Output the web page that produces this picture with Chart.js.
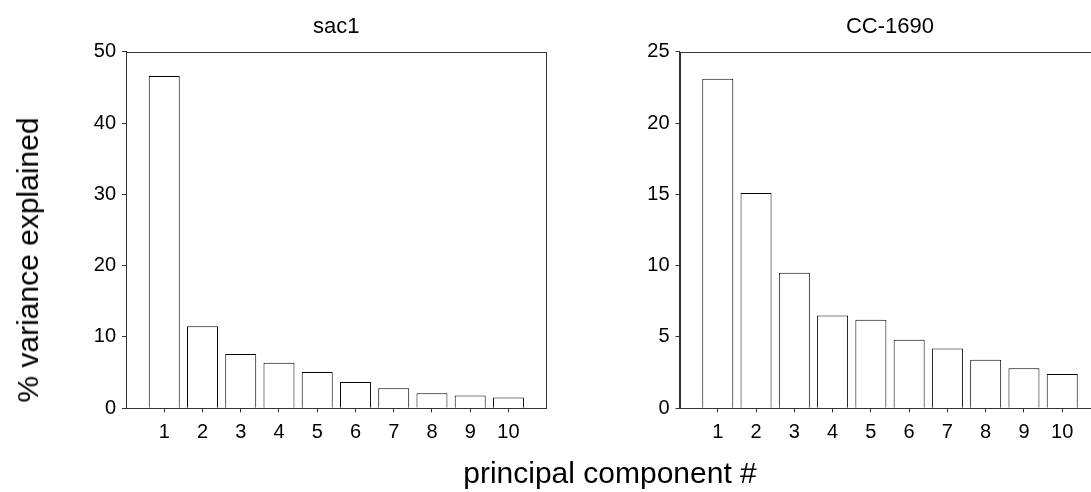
<!DOCTYPE html>
<html>
<head>
<meta charset="utf-8">
<script src="https://cdn.jsdelivr.net/npm/chart.js@4"></script>
<style>
  html, body {
    margin: 0;
    width: 1091px;
    height: 492px;
    overflow: hidden;
    background: #fff;
    font-family: "Liberation Sans", Arial, sans-serif;
  }
  .panel {
    position: absolute;
    top: 0;
    height: 492px;
  }
  #panel-sac1 { left: 0; width: 580px; }
  #panel-cc { left: 580px; width: 560px; }
  .axis-label {
    position: absolute;
    font-size: 30px;
    line-height: 30px;
    white-space: nowrap;
    color: #000;
  }
  #ylabel {
    left: 27.6px;
    top: 259.5px;
    transform: translate(-50%, -50%) rotate(-90deg);
  }
  #xlabel {
    left: 610px;
    top: 458px;
    transform: translateX(-50%);
  }
</style>
</head>
<body>
<div class="panel" id="panel-sac1"><canvas id="chart-sac1"></canvas></div>
<div class="panel" id="panel-cc"><canvas id="chart-cc"></canvas></div>
<div class="axis-label" id="ylabel">% variance explained</div>
<div class="axis-label" id="xlabel">principal component #</div>
<script>
const components = [1, 2, 3, 4, 5, 6, 7, 8, 9, 10];
const sac1Variance = [46.6, 11.5, 7.6, 6.4, 5.1, 3.7, 2.8, 2.1, 1.8, 1.5];
const cc1690Variance = [23.1, 15.1, 9.5, 6.5, 6.2, 4.8, 4.2, 3.4, 2.8, 2.4];

Chart.defaults.font.family = "'Liberation Sans', Arial, sans-serif";
Chart.defaults.color = "#000";

// box around the plot area (left/bottom come from the axes)
const frame = {
  id: "frame",
  afterDraw(chart) {
    const { ctx, chartArea } = chart;
    const l = Math.round(chartArea.left) + 0.5;
    const t = Math.round(chartArea.top) + 0.5;
    const r = Math.round(chartArea.right) - 0.5;
    const b = Math.round(chartArea.bottom) + 0.5;
    ctx.save();
    ctx.strokeStyle = "#333";
    ctx.lineWidth = 1;
    ctx.strokeRect(l, t, r - l, b - t);
    ctx.restore();
  },
};

function makeChart(id, title, values, yMax, yStep, yWidth, padRight) {
  const ctx = document.getElementById(id);
  return new Chart(ctx, {
    type: "bar",
    data: {
      datasets: [
        {
          data: components.map((c, i) => ({ x: c, y: values[i] })),
          backgroundColor: "#fff",
          borderColor: "#000",
          borderWidth: 1,
          categoryPercentage: 1,
          barPercentage: 0.81,
        },
      ],
    },
    options: {
      responsive: true,
      maintainAspectRatio: false,
      animation: false,
      layout: { padding: { left: 0, right: padRight, top: 0, bottom: 0 } },
      plugins: {
        legend: { display: false },
        tooltip: { enabled: false },
        title: {
          display: true,
          text: title,
          fullSize: false,
          font: { size: 22, weight: "normal", lineHeight: 1.2 },
          padding: { top: 13.8, bottom: 11.5 },
        },
      },
      scales: {
        x: {
          type: "linear",
          min: 0,
          max: 11,
          offset: false,
          ticks: { stepSize: 1, padding: 8, font: { size: 20 } },
          afterBuildTicks(axis) {
            axis.ticks = axis.ticks.filter((t) => t.value >= 1 && t.value <= 10);
          },
          afterFit(axis) {
            axis.height = 83.7;
          },
          grid: { offset: false, drawOnChartArea: false, tickLength: 4, color: "#333" },
          border: { color: "#333" },
        },
        y: {
          min: 0,
          max: yMax,
          ticks: { stepSize: yStep, padding: 6, font: { size: 20 } },
          afterFit(axis) {
            axis.width = yWidth;
          },
          grid: { drawOnChartArea: false, tickLength: 4, color: "#333" },
          border: { color: "#333" },
        },
      },
    },
    plugins: [frame],
  });
}

makeChart("chart-sac1", "sac1", sac1Variance, 50, 10, 126, 33.3);
makeChart("chart-cc", "CC-1690", cc1690Variance, 25, 5, 99.5, 39.5);
</script>
</body>
</html>
